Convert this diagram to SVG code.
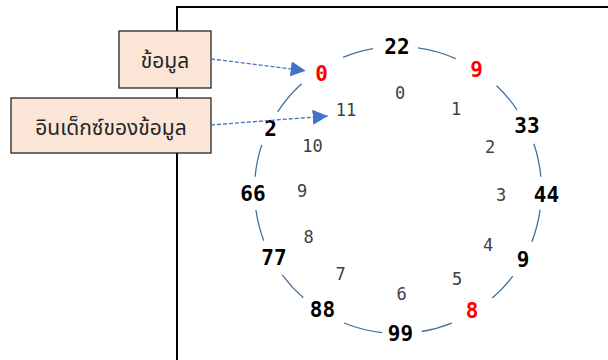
<svg xmlns="http://www.w3.org/2000/svg" width="608" height="360" viewBox="0 0 608 360">
  <style>
    .frame { fill: none; stroke: #000; stroke-width: 2; }
    .box rect { fill: #fbe5d6; stroke: #262626; stroke-width: 1.3; }
    .box text { font-family: "Noto Sans Thai", "Noto Sans", "DejaVu Sans", sans-serif; font-size: 21px; fill: #262626; text-anchor: middle; dominant-baseline: central; }
    .ring { fill: none; stroke: #41719c; stroke-width: 1.3; }
    .val { font-family: "DejaVu Sans Mono", "Liberation Mono", monospace; font-weight: bold; font-size: 21px; fill: #000; text-anchor: middle; dominant-baseline: central; }
    .val.hot { fill: #ff0000; }
    .idx { font-family: "DejaVu Sans Mono", "Liberation Mono", monospace; font-size: 17px; fill: #404040; text-anchor: middle; dominant-baseline: central; }
    .ptr { fill: none; stroke: #4472c4; stroke-width: 1.3; stroke-dasharray: 4 2; }
  </style>
  <defs>
    <marker id="head" markerUnits="userSpaceOnUse" markerWidth="16" markerHeight="16" viewBox="0 0 16 16" refX="15" refY="7.5" orient="auto">
      <path d="M0,0 L15,7.5 L0,15 Z" fill="#4472c4"/>
    </marker>
  </defs>

  <rect width="608" height="360" fill="#fff"/>

  <!-- frame corner -->
  <path class="frame" d="M177,360 V7 H608"/>

  <!-- ring of array slots, broken where the values sit -->
  <g id="ring">
    <path class="ring" d="M343.1,57.4 A143.5,143.5 0 0 1 373.1,48.7"/>
    <path class="ring" d="M418.0,47.9 A143.5,143.5 0 0 1 455.7,58.6"/>
    <path class="ring" d="M496.6,85.7 A143.5,143.5 0 0 1 517.1,110.0"/>
    <path class="ring" d="M533.8,143.7 A143.5,143.5 0 0 1 540.9,176.7"/>
    <path class="ring" d="M540.1,209.7 A143.5,143.5 0 0 1 531.9,241.7"/>
    <path class="ring" d="M512.8,276.2 A143.5,143.5 0 0 1 492.3,298.1"/>
    <path class="ring" d="M451.8,323.1 A143.5,143.5 0 0 1 421.7,331.5"/>
    <path class="ring" d="M382.3,332.6 A143.5,143.5 0 0 1 344.0,323.0"/>
    <path class="ring" d="M303.3,297.8 A143.5,143.5 0 0 1 282.2,274.8"/>
    <path class="ring" d="M263.8,240.7 A143.5,143.5 0 0 1 255.9,210.0"/>
    <path class="ring" d="M255.1,176.7 A143.5,143.5 0 0 1 261.8,144.9"/>
    <path class="ring" d="M277.6,111.9 A143.5,143.5 0 0 1 301.6,83.7"/>
  </g>

  <!-- stored values -->
  <g id="values">
    <text class="val" x="397" y="47">22</text>
    <text class="val hot" x="476.5" y="70">9</text>
    <text class="val" x="527" y="125.5">33</text>
    <text class="val" x="546.5" y="194.5">44</text>
    <text class="val" x="523" y="260">9</text>
    <text class="val hot" x="472" y="311">8</text>
    <text class="val" x="400.5" y="333.5">99</text>
    <text class="val" x="322.5" y="309.5">88</text>
    <text class="val" x="274" y="257.5">77</text>
    <text class="val" x="253" y="193.5">66</text>
    <text class="val" x="270.5" y="129">2</text>
    <text class="val hot" x="321.5" y="74">0</text>
  </g>

  <!-- slot indices -->
  <g id="indices">
    <text class="idx" x="400" y="93">0</text>
    <text class="idx" x="456" y="109">1</text>
    <text class="idx" x="490" y="146.5">2</text>
    <text class="idx" x="501" y="195">3</text>
    <text class="idx" x="488" y="245">4</text>
    <text class="idx" x="457" y="278.5">5</text>
    <text class="idx" x="401.5" y="293.5">6</text>
    <text class="idx" x="340.5" y="274">7</text>
    <text class="idx" x="308.5" y="237">8</text>
    <text class="idx" x="302" y="190.5">9</text>
    <text class="idx" x="312.5" y="146">10</text>
    <text class="idx" x="346" y="110">11</text>
  </g>

  <!-- callout boxes -->
  <g id="data-box" class="box">
    <rect x="119" y="31" width="92" height="57"/>
    <text x="165" y="61">ข้อมูล</text>
  </g>
  <g id="index-box" class="box">
    <rect x="11" y="98" width="200" height="55"/>
    <text x="111" y="128">อินเด็กซ์ของข้อมูล</text>
  </g>

  <!-- pointers from the callouts -->
  <g id="connectors">
    <path class="ptr" d="M211,59 L305.7,70.7" marker-end="url(#head)"/>
    <path class="ptr" d="M211,125 L327.7,116" marker-end="url(#head)"/>
  </g>
</svg>
